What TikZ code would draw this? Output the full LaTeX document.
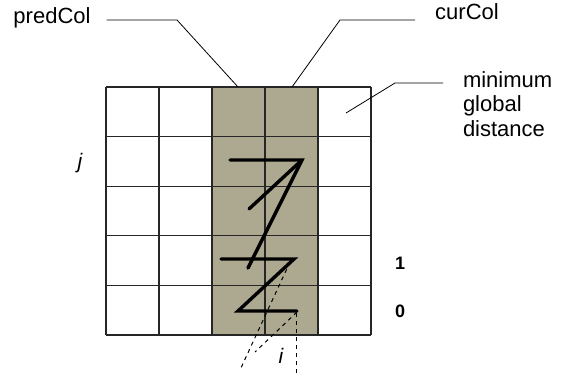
\documentclass[tikz,border=0pt]{standalone}
\usepackage{fontspec}
\setmainfont{Liberation Sans}
\usetikzlibrary{calc}

\definecolor{colshade}{RGB}{173,169,145}

\begin{document}
\begin{tikzpicture}[
  x=1pt, y=-1pt,
  font=\fontsize{22}{24.5}\selectfont,
  gridline/.style={draw=black!85, line width=1.1pt},
  leader/.style={line width=0.8pt},
  pathline/.style={line width=3.4pt, line cap=round},
  dashline/.style={line width=1pt, dash pattern=on 4pt off 4pt},
  lab/.style={inner sep=0pt, outer xsep=16pt, align=left},
  idx/.style={inner sep=0pt, font=\fontsize{18}{20}\selectfont\bfseries},
  var/.style={inner sep=0pt, font=\fontsize{21}{24}\selectfont\itshape}
]
\useasboundingbox (0,0) rectangle (567,375);

% the two columns in use
\fill[colshade] (212,87) rectangle (318,335);

% grid of cells
\foreach \c in {0,...,5}
  \draw[gridline] (106+53*\c,87) -- (106+53*\c,335);
\foreach \r in {0,...,5}
  \draw[gridline] (106,87+49.6*\r) -- (371,87+49.6*\r);

% labels and leaders
\node[lab] (predCol) at (52,18) {predCol};
\node[lab] (curCol) at (467,12) {curCol};
\node[lab, anchor=north west, outer xsep=0pt] (minDist) at (463,71) {minimum\\global\\distance};

\coordinate (predBend) at (177,20);
\coordinate (predTop) at (238,87);
\coordinate (curBend) at (340,20);
\coordinate (curTop) at (292,87);
\coordinate (distBend) at (395,83);
\coordinate (distCell) at (346,113);

\draw[leader] (predCol.east |- predBend) -- (predBend) -- (predTop);
\draw[leader] (curTop) -- (curBend) -- ($(curCol.west |- curBend)+(-4,0)$);
\draw[leader] (distCell) -- (distBend) -- ($(minDist.west |- distBend)+(-20,0)$);

\node[var] (jLab) at (80,163) {j};
\node[var] (iLab) at (281,356) {i};
\node[idx] (one) at (400,263) {1};
\node[idx] (zero) at (400,311) {0};

% warping path through the columns
\draw[pathline] (230,160) -- (302,160) -- (248,268);
\draw[pathline] (249,209) -- (302,160);
\draw[pathline] (221,259) -- (294,259) -- (238,311) -- (297,311);

% dashed projections
\draw[dashline] (290,262) -- (240,370);
\draw[dashline] (297,312) -- (255,352);
\draw[dashline] (296,313) -- (296,373);
\end{tikzpicture}
\end{document}
